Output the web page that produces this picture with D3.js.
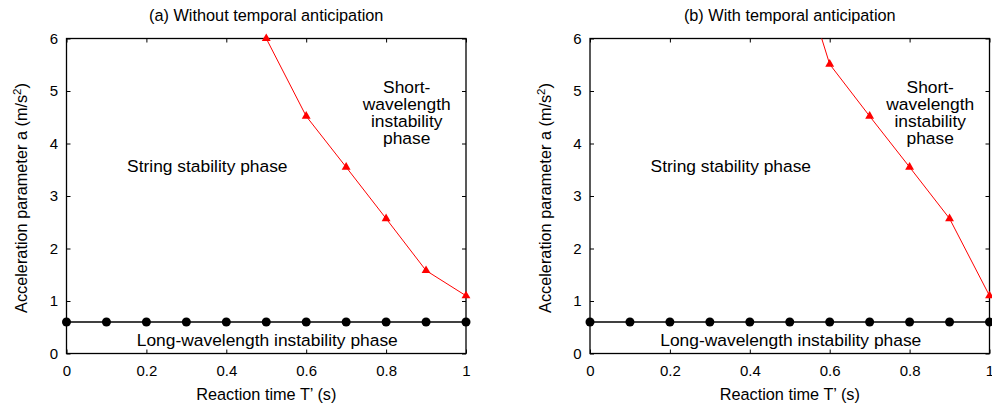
<!DOCTYPE html>
<html>
<head>
  <meta charset="utf-8">
  <title>Phase diagram</title>
  <script src="https://d3js.org/d3.v7.min.js"></script>
  <style>
    body { margin: 0; background: #fff; }
    svg { display: block; }
    text { font-family: "Liberation Sans", Arial, sans-serif; fill: #000; }
    .tick-label { font-size: 15px; }
    .title { font-size: 16.3px; }
    .axis-label { font-size: 16.3px; }
    .note { font-size: 17.4px; }
  </style>
</head>
<body>
  <svg id="chart" width="992" height="407"></svg>

  <script>
    // Data
    const reactionTimes = [0, 0.1, 0.2, 0.3, 0.4, 0.5, 0.6, 0.7, 0.8, 0.9, 1.0];
    const longWaveBoundary = [0.6, 0.6, 0.6, 0.6, 0.6, 0.6, 0.6, 0.6, 0.6, 0.6, 0.6];

    const shortWaveTimes = [0.5, 0.6, 0.7, 0.8, 0.9, 1.0];
    const shortWaveWithout = [6.0, 4.52, 3.55, 2.57, 1.58, 1.1];
    const shortWaveWith = [7.96, 5.51, 4.52, 3.55, 2.57, 1.1];

    const xTicks = [0, 0.2, 0.4, 0.6, 0.8, 1];
    const yTicks = [0, 1, 2, 3, 4, 5, 6];
    const shortWaveLines = ["Short-", "wavelength", "instability", "phase"];

    const panels = [
      { id: "a", title: "(a) Without temporal anticipation", left: 66.5, right: 466, shortWave: shortWaveWithout },
      { id: "b", title: "(b) With temporal anticipation", left: 590, right: 989.5, shortWave: shortWaveWith }
    ];

    const plotTop = 38.5, plotBottom = 353.5;
    const svg = d3.select("#chart");

    panels.forEach((p) => {
      const x = d3.scaleLinear().domain([0, 1]).range([p.left, p.right]);
      const y = d3.scaleLinear().domain([0, 6]).range([plotBottom, plotTop]);
      const g = svg.append("g");
      const cx = (p.left + p.right) / 2;

      // clip region for lines
      g.append("clipPath").attr("id", "clip-" + p.id)
        .append("rect")
        .attr("x", p.left).attr("y", plotTop)
        .attr("width", p.right - p.left).attr("height", plotBottom - plotTop);

      // axes with inward ticks, mirrored
      const fmt = (d) => d3.format("")(d);
      g.append("g").attr("transform", `translate(0,${plotBottom})`)
        .call(d3.axisBottom(x).tickValues(xTicks).tickSizeInner(-4).tickSizeOuter(0).tickPadding(11.5).tickFormat(fmt))
        .call((a) => a.select(".domain").remove());
      g.append("g").attr("transform", `translate(0,${plotTop})`)
        .call(d3.axisTop(x).tickValues(xTicks).tickSizeInner(-4).tickSizeOuter(0).tickFormat(""))
        .call((a) => a.select(".domain").remove());
      g.append("g").attr("transform", `translate(${p.left},0)`)
        .call(d3.axisLeft(y).tickValues(yTicks).tickSizeInner(-4).tickSizeOuter(0).tickPadding(8.5).tickFormat(fmt))
        .call((a) => a.select(".domain").remove());
      g.append("g").attr("transform", `translate(${p.right},0)`)
        .call(d3.axisRight(y).tickValues(yTicks).tickSizeInner(-4).tickSizeOuter(0).tickFormat(""))
        .call((a) => a.select(".domain").remove());

      g.selectAll("g").attr("font-size", null).attr("font-family", null);
      g.selectAll(".tick text").attr("class", "tick-label");
      g.selectAll(".tick line").attr("stroke", "#000");

      // frame
      g.append("rect")
        .attr("x", p.left).attr("y", plotTop)
        .attr("width", p.right - p.left).attr("height", plotBottom - plotTop)
        .attr("fill", "none").attr("stroke", "#000").attr("stroke-width", 1.3);

      // long-wavelength boundary
      const bData = reactionTimes.map((t, i) => [t, longWaveBoundary[i]]);
      g.append("path")
        .attr("clip-path", `url(#clip-${p.id})`)
        .attr("d", d3.line().x((d) => x(d[0])).y((d) => y(d[1]))(bData))
        .attr("fill", "none").attr("stroke", "#000").attr("stroke-width", 1.5);
      g.selectAll(".dot").data(bData).enter().append("circle")
        .attr("cx", (d) => x(d[0])).attr("cy", (d) => y(d[1]))
        .attr("r", 4.5).attr("fill", "#000");

      // short-wavelength boundary
      const sData = shortWaveTimes.map((t, i) => [t, p.shortWave[i]]);
      g.append("path")
        .attr("clip-path", `url(#clip-${p.id})`)
        .attr("d", d3.line().x((d) => x(d[0])).y((d) => y(d[1]))(sData))
        .attr("fill", "none").attr("stroke", "#ff0000").attr("stroke-width", 1);
      g.selectAll(".tri").data(sData.filter((d) => d[1] <= 6)).enter().append("path")
        .attr("transform", (d) => `translate(${x(d[0])},${y(d[1])})`)
        .attr("d", d3.symbol().type(d3.symbolTriangle).size(34))
        .attr("fill", "#ff0000");

      // titles and labels
      g.append("text").attr("class", "title")
        .attr("x", cx).attr("y", 21).attr("text-anchor", "middle").text(p.title);
      g.append("text").attr("class", "axis-label")
        .attr("x", cx).attr("y", 400).attr("text-anchor", "middle").text("Reaction time T\u2019 (s)");
      const yl = g.append("text").attr("class", "axis-label")
        .attr("transform", `translate(${p.left - 39.5},198) rotate(-90)`)
        .attr("text-anchor", "middle");
      yl.append("tspan").text("Acceleration parameter a (m/s");
      yl.append("tspan").attr("dy", -6).attr("font-size", 11.5).text("2");
      yl.append("tspan").attr("dy", 6).text(")");

      // phase annotations
      g.append("text").attr("class", "note")
        .attr("x", x(0.3525)).attr("y", 172).attr("text-anchor", "middle").text("String stability phase");
      g.append("text").attr("class", "note")
        .attr("x", cx + 1).attr("y", 346).attr("text-anchor", "middle").text("Long-wavelength instability phase");
      shortWaveLines.forEach((s, i) => {
        g.append("text").attr("class", "note").attr("text-anchor", "middle")
          .attr("x", x(0.8516)).attr("y", 92.5 + i * 17.2).text(s);
      });
    });
  </script>
</body>
</html>
